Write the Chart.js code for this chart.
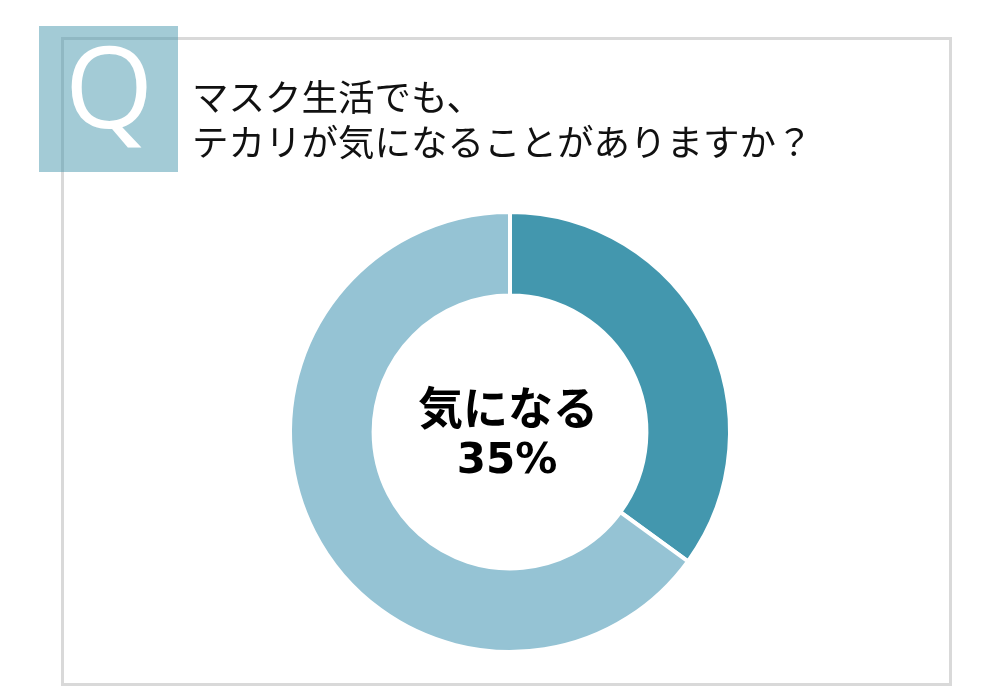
<!DOCTYPE html>
<html lang="ja">
<head>
<meta charset="utf-8">
<title>テカリが気になることがありますか？</title>
<script src="https://cdn.jsdelivr.net/npm/chart.js@4"></script>
<style>
  html, body { margin: 0; padding: 0; background: #fff; }
  #wrap { width: 991px; height: 686px; position: relative; }
</style>
</head>
<body>
<div id="wrap"><canvas id="tekari"></canvas></div>
<script>
// data
var labels = ["気になる", "気にならない"];
var values = [35, 65];
var colors = ["#4397ae", "#95c3d4"];
var titleLines = ["マスク生活でも、", "テカリが気になることがありますか？"];
var centerLines = ["気になる", "35%"];

var jp = '"Noto Sans CJK JP", "Noto Sans", sans-serif';

// frame, Q badge and question text
var backdrop = {
    id: 'backdrop',
    beforeDraw: function(chart) {
        var c = chart.ctx;
        c.save();
        c.fillStyle = '#fff';
        c.fillRect(0, 0, chart.width, chart.height);

        c.strokeStyle = '#d9d9d9';
        c.lineWidth = 3;
        c.strokeRect(62.5, 38.5, 888, 646);

        c.fillStyle = 'rgba(71,151,173,0.5)';
        c.fillRect(39, 26, 139, 146);

        c.fillStyle = '#fff';
        c.font = '400 114px "Open Sans", Lato, sans-serif';
        c.textAlign = 'center';
        c.textBaseline = 'alphabetic';
        c.fillText('Q', 109, 128);

        c.fillStyle = '#111';
        c.font = '400 36.5px ' + jp;
        c.textAlign = 'left';
        c.textBaseline = 'middle';
        c.fillText(titleLines[0], 192, 97);
        c.fillText(titleLines[1], 192, 142);
        c.restore();
    },
    afterDraw: function(chart) {
        var c = chart.ctx;
        var meta = chart.getDatasetMeta(0).data[0];
        c.save();
        c.fillStyle = '#000';
        c.textAlign = 'center';
        c.textBaseline = 'middle';
        c.font = 'bold 45px ' + jp;
        c.fillText(centerLines[0], meta.x - 2, 408);
        c.font = 'bold 42px "DejaVu Sans", ' + jp;
        c.fillText(centerLines[1], meta.x - 3, 462);
        c.restore();
    }
};

var ctx = document.getElementById("tekari").getContext('2d');
var chart = new Chart(ctx, {
    type: 'doughnut',
    data: {
        labels: labels,
        datasets: [{
            data: values,
            backgroundColor: colors,
            borderColor: '#fff',
            borderWidth: 4
        }]
    },
    options: {
        responsive: true,
        maintainAspectRatio: false,
        animation: false,
        cutout: '62%',
        layout: { padding: { top: 210, bottom: 32, left: 288, right: 259 } },
        plugins: {
            legend: { display: false },
            tooltip: { enabled: false }
        }
    },
    plugins: [backdrop]
});
</script>
</body>
</html>
